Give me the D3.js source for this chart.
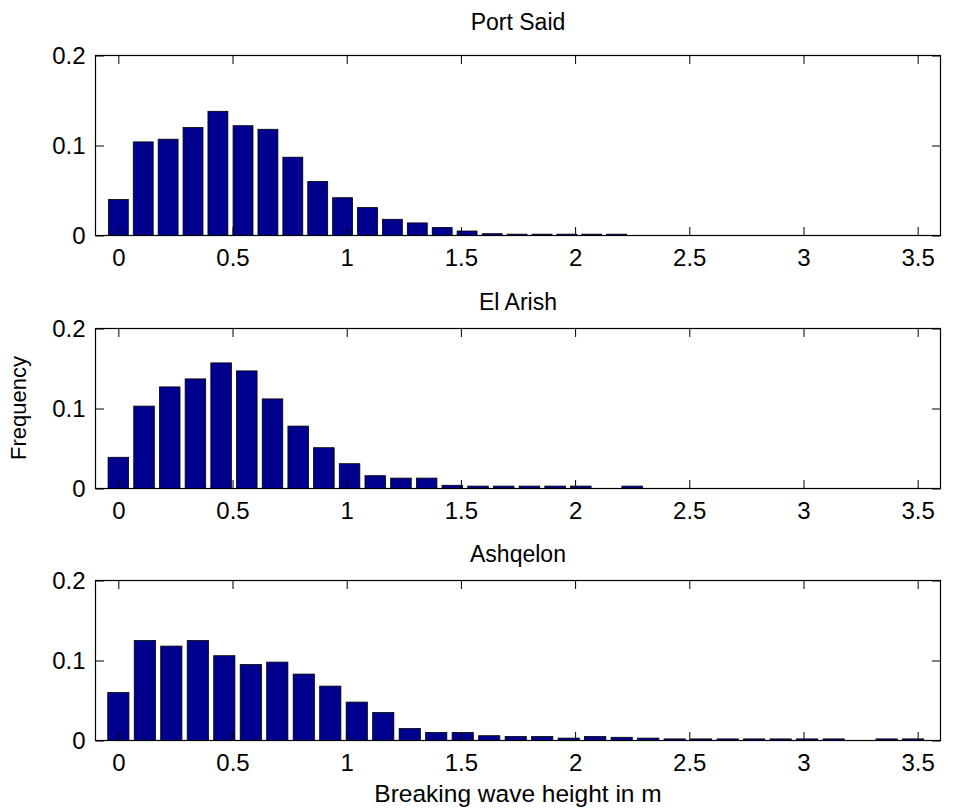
<!DOCTYPE html>
<html>
<head>
<meta charset="utf-8">
<script src="https://cdn.jsdelivr.net/npm/d3@7"></script>
<style>
  html, body { margin: 0; padding: 0; background: #fff; }
  svg text { font-family: "Liberation Sans", Arial, sans-serif; fill: #000; }
</style>
</head>
<body>
<svg id="chart" width="964" height="809"></svg>
<script>
// ---- data ----
const xTicks = [0, 0.5, 1, 1.5, 2, 2.5, 3, 3.5];
const xTickLabels = ["0", "0.5", "1", "1.5", "2", "2.5", "3", "3.5"];
const yTicks = [0, 0.1, 0.2];
const yTickLabels = ["0", "0.1", "0.2"];
const titles = ["Port Said", "El Arish", "Ashqelon"];

const portSaidCenters = [0, 0.109, 0.218, 0.327, 0.436, 0.546, 0.655, 0.764, 0.873, 0.982, 1.091,
  1.200, 1.309, 1.418, 1.527, 1.637, 1.746, 1.855, 1.964, 2.073, 2.182];
const portSaidFreq = [0.040, 0.104, 0.107, 0.120, 0.138, 0.122, 0.118, 0.087, 0.060, 0.042, 0.031,
  0.018, 0.014, 0.009, 0.005, 0.002, 0.0015, 0.0015, 0.0015, 0.0015, 0.0015];

const elArishCenters = [0, 0.1125, 0.225, 0.3375, 0.45, 0.5625, 0.675, 0.7875, 0.9, 1.0125, 1.125,
  1.2375, 1.35, 1.4625, 1.575, 1.6875, 1.8, 1.9125, 2.025, 2.1375, 2.25];
const elArishFreq = [0.039, 0.103, 0.127, 0.137, 0.157, 0.147, 0.112, 0.078, 0.051, 0.031, 0.016,
  0.013, 0.013, 0.004, 0.003, 0.003, 0.003, 0.003, 0.003, 0, 0.003];

const ashqelonCenters = [0, 0.116, 0.232, 0.348, 0.464, 0.580, 0.696, 0.812, 0.928, 1.044, 1.160,
  1.276, 1.392, 1.508, 1.624, 1.740, 1.856, 1.972, 2.088, 2.204, 2.320,
  2.436, 2.552, 2.668, 2.784, 2.900, 3.016, 3.132, 3.248, 3.364, 3.480];
const ashqelonFreq = [0.060, 0.125, 0.118, 0.125, 0.106, 0.095, 0.098, 0.083, 0.068, 0.048, 0.035,
  0.015, 0.010, 0.010, 0.006, 0.005, 0.005, 0.003, 0.005, 0.004, 0.003,
  0.002, 0.002, 0.002, 0.002, 0.002, 0.002, 0.002, 0, 0.002, 0.002];

const binSteps = [0.109, 0.1125, 0.116];
const allCenters = [portSaidCenters, elArishCenters, ashqelonCenters];
const allFreq = [portSaidFreq, elArishFreq, ashqelonFreq];

// ---- layout ----
const svg = d3.select("#chart");
const left = 95.5, right = 940.5;
const panels = [
  { top: 55.5, bottom: 235.5, titleGap: 26 },
  { top: 328.5, bottom: 488.5, titleGap: 19 },
  { top: 580.5, bottom: 740.5, titleGap: 19 }
];
const tickFont = 24;
const titleFont = 23;
const tickLen = 8.5;
const barColor = "rgb(0,0,143)";

const x = d3.scaleLinear().domain([-0.1, 3.6]).range([left, right]);

panels.forEach((p, i) => {
  const y = d3.scaleLinear().domain([0, 0.2]).range([p.bottom, p.top]);
  const g = svg.append("g");
  const data = allCenters[i].map((c, k) => ({ c, v: allFreq[i][k] }));
  const w = binSteps[i] * 0.8;

  g.selectAll("rect.bar").data(data.filter(d => d.v > 0)).enter().append("rect")
    .attr("class", "bar")
    .attr("x", d => x(d.c - w / 2))
    .attr("width", d => x(d.c + w / 2) - x(d.c - w / 2))
    .attr("y", d => y(d.v))
    .attr("height", d => y(0) - y(d.v))
    .attr("fill", barColor)
    .attr("stroke", "#000")
    .attr("stroke-width", 0.8);

  // bottom axis
  const xb = d3.axisBottom(x).tickValues(xTicks).tickFormat((d, k) => xTickLabels[k])
    .tickSizeInner(-tickLen).tickSizeOuter(0).tickPadding(13);
  const gx = g.append("g").attr("transform", `translate(0,${p.bottom})`).call(xb);
  gx.select(".domain").remove();
  gx.selectAll("text").attr("font-size", tickFont).attr("font-family", "Liberation Sans, Arial, sans-serif");
  // top axis ticks
  const xt = d3.axisTop(x).tickValues(xTicks).tickFormat("").tickSizeInner(-tickLen).tickSizeOuter(0);
  const gxt = g.append("g").attr("transform", `translate(0,${p.top})`).call(xt);
  gxt.select(".domain").remove();
  // left axis
  const yl = d3.axisLeft(y).tickValues(yTicks).tickFormat((d, k) => yTickLabels[k])
    .tickSizeInner(-tickLen).tickSizeOuter(0).tickPadding(10);
  const gy = g.append("g").attr("transform", `translate(${left},0)`).call(yl);
  gy.select(".domain").remove();
  gy.selectAll("text").attr("font-size", tickFont).attr("font-family", "Liberation Sans, Arial, sans-serif");
  // right ticks
  const yr = d3.axisRight(y).tickValues(yTicks).tickFormat("").tickSizeInner(-tickLen).tickSizeOuter(0);
  const gyr = g.append("g").attr("transform", `translate(${right},0)`).call(yr);
  gyr.select(".domain").remove();

  g.selectAll(".tick line").attr("stroke", "#000").attr("stroke-width", 1);

  // box
  g.append("rect")
    .attr("x", left).attr("y", p.top)
    .attr("width", right - left).attr("height", p.bottom - p.top)
    .attr("fill", "none").attr("stroke", "#000").attr("stroke-width", 1.2);

  // title
  g.append("text")
    .attr("x", (left + right) / 2)
    .attr("y", p.top - p.titleGap)
    .attr("text-anchor", "middle")
    .attr("font-size", titleFont)
    .text(titles[i]);
});

svg.append("text")
  .attr("x", (left + right) / 2).attr("y", 802)
  .attr("text-anchor", "middle").attr("font-size", 24.5)
  .text("Breaking wave height in m");

svg.append("text")
  .attr("transform", `translate(26,408) rotate(-90)`)
  .attr("text-anchor", "middle").attr("font-size", 22)
  .text("Frequency");
</script>
</body>
</html>
